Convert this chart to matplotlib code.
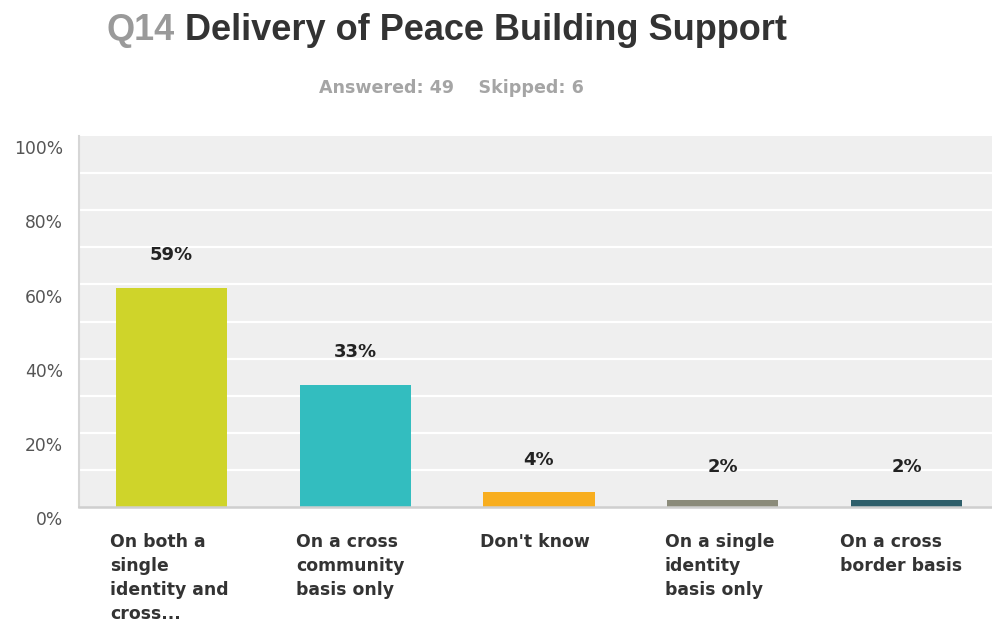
import matplotlib
matplotlib.use("Agg")
import matplotlib.pyplot as plt
from matplotlib.transforms import ScaledTranslation

# Survey question results
categories = [
    "On both a\nsingle\nidentity and\ncross...",
    "On a cross\ncommunity\nbasis only",
    "Don't know",
    "On a single\nidentity\nbasis only",
    "On a cross\nborder basis",
]
values = [0.59, 0.33, 0.04, 0.02, 0.02]
value_labels = ["59%", "33%", "4%", "2%", "2%"]
bar_colors = ["#cfd42a", "#33bdbf", "#f8ae1f", "#8b8b7a", "#2e5f6b"]
y_ticks = [0.0, 0.2, 0.4, 0.6, 0.8, 1.0]
y_tick_labels = ["0%", "20%", "40%", "60%", "80%", "100%"]
grid_levels = [0.1, 0.2, 0.3, 0.4, 0.5, 0.6, 0.7, 0.8, 0.9]

TITLE_FONT = "Liberation Sans"
FONT = "DejaVu Sans"
W, H = 992, 624
fig = plt.figure(figsize=(W / 100, H / 100), dpi=100)
fig.patch.set_facecolor("white")

left_px, right_px, top_px, bottom_px = 79, 992, 136, 507
ax = fig.add_axes([left_px / W, 1 - bottom_px / H,
                   (right_px - left_px) / W, (bottom_px - top_px) / H])
ax.set_facecolor("#efefef")

x = list(range(len(categories)))
ax.bar(x, values, width=0.605, color=bar_colors, zorder=3)

for lvl in grid_levels:
    ax.axhline(lvl, color="white", lw=1.6, zorder=1)

ax.set_xlim(-0.503, 4.465)
ax.set_ylim(0, 1.0)

for s in ["top", "right"]:
    ax.spines[s].set_visible(False)
ax.spines["left"].set_color("#d6d6d6")
ax.spines["left"].set_linewidth(1.5)
ax.spines["bottom"].set_color("#cfcfcf")
ax.spines["bottom"].set_linewidth(1.8)
ax.spines["bottom"].set_zorder(4)

ax.set_yticks(y_ticks)
ax.set_yticklabels(y_tick_labels, fontsize=12.3, color="#555555", family=FONT)
ax.tick_params(axis="y", length=0, pad=11.5)
shift = ScaledTranslation(0, -8 / 72, fig.dpi_scale_trans)
for lab in ax.get_yticklabels():
    lab.set_transform(lab.get_transform() + shift)
ax.set_xticks([])

# Value labels above bars
for xi, v, t in zip(x, values, value_labels):
    ax.annotate(t, (xi, v), xytext=(0, 23.5), textcoords="offset points",
                ha="center", va="center", fontsize=13, fontweight="bold",
                color="#222222", family=FONT)

# Category labels under the axis, left aligned
label_left_px = [110, 296, 480, 665, 840]
for lx, c in zip(label_left_px, categories):
    fig.text(lx / W, 1 - 533 / H, c, ha="left", va="top", fontsize=12.4,
             fontweight="bold", color="#333333", family=FONT,
             linespacing=1.42)

# Title in two colours
t1 = fig.text(107 / W, 1 - 31 / H, "Q14", ha="left", va="center",
              fontsize=26, fontweight="bold", color="#9a9a9a",
              family=TITLE_FONT)
fig.canvas.draw()
bb = t1.get_window_extent()
fig.text((bb.x1 + 10) / W, 1 - 31 / H, "Delivery of Peace Building Support",
         ha="left", va="center", fontsize=26, fontweight="bold",
         color="#333333", family=TITLE_FONT)

fig.text(451 / W, 1 - 88 / H, "Answered: 49    Skipped: 6", ha="center",
         va="center", fontsize=12.6, fontweight="bold", color="#a5a5a5",
         family=FONT)

fig.savefig("out.png", dpi=100)
